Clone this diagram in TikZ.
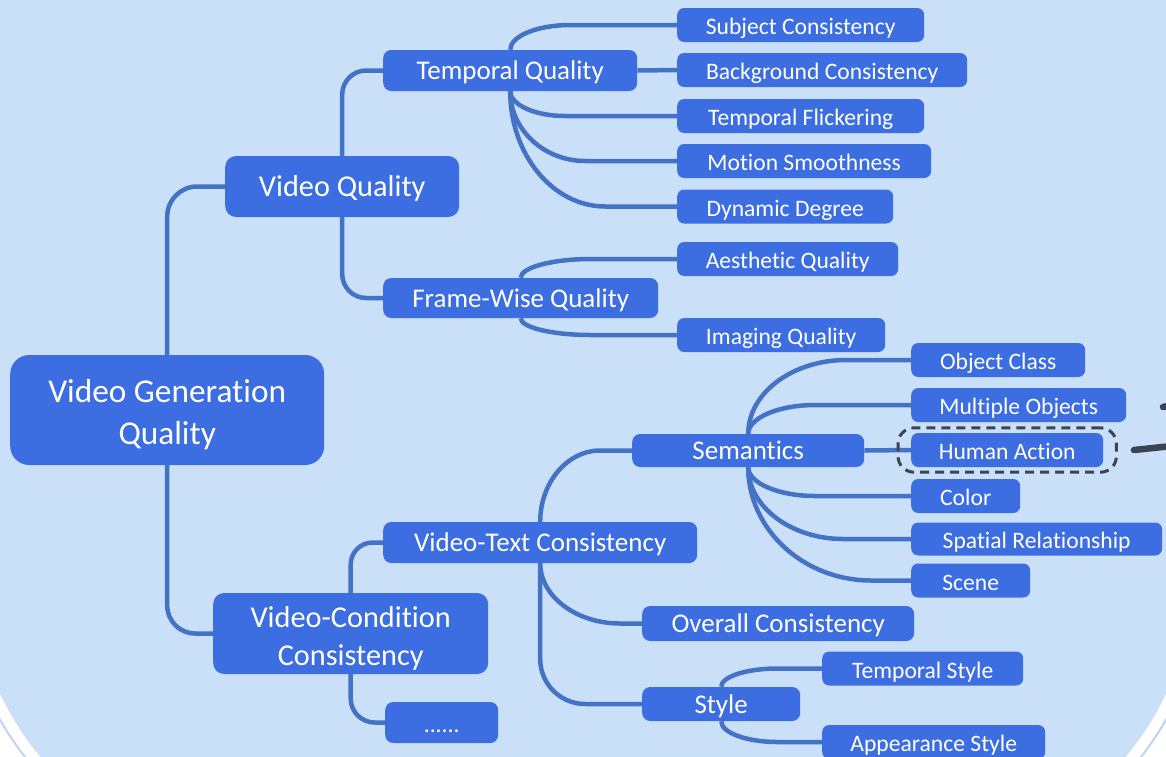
\documentclass[tikz,border=0pt]{standalone}
\usepackage{fontspec}
\setmainfont{Carlito}[Ligatures=NoCommon]
\usetikzlibrary{calc,fit}

\definecolor{bgblue}{RGB}{202,223,248}
\definecolor{rimblue}{RGB}{190,212,243}
\definecolor{boxblue}{RGB}{60,110,226}
\definecolor{linkblue}{RGB}{68,114,196}
\definecolor{pengray}{RGB}{58,68,84}

\tikzset{
  topic/.style={fill=boxblue, text=white, anchor=west, align=center, inner sep=0pt, rounded corners=7pt},
  rootbox/.style={topic, rounded corners=19pt, font=\fontsize{33.3}{42}\selectfont},
  lvlone/.style={topic, rounded corners=11pt, font=\fontsize{30.3}{38}\selectfont},
  lvltwo/.style={topic, text height=24pt, text depth=6pt, rounded corners=8pt, font=\fontsize{27}{32}\selectfont},
  leaf/.style={topic, text height=22pt, text depth=3pt, minimum height=34pt, font=\fontsize{23.6}{28}\selectfont},
  link/.style={draw=linkblue, line width=4.5pt},
  fan/.style={to path={.. controls ($(\tikztostart)!0.55!(\tikztostart |- \tikztotarget)$) and ($(\tikztostart |- \tikztotarget)+(0.45*#1,0)$) .. ($(\tikztostart |- \tikztotarget)+(#1,0)$) -- (\tikztotarget)}},
  hlframe/.style={draw=pengray, line width=3pt, dash pattern=on 9pt off 6pt, rounded corners=16pt},
  penline/.style={draw=pengray, line width=6.5pt, line cap=round},
}

\begin{document}
\begin{tikzpicture}[x=1pt,y=-1pt]
\useasboundingbox (0,0) rectangle (1166,756);
\clip (0,0) rectangle (1166,756);
% panel
\fill[white] (0,0) rectangle (1166,756);
\draw[rimblue, line width=2pt, rounded corners=312pt] (-41,-700) rectangle (1207,877);
\fill[bgblue, rounded corners=300pt] (-29,-700) rectangle (1195,865);

% topics
\node[rootbox, minimum width=314pt, minimum height=110pt] (root) at (10,410) {\rule{0pt}{1em}Video Generation\\Quality};
\node[lvlone, text height=26pt, text depth=7pt, minimum width=234pt, minimum height=61pt] (vq) at (225,186.5) {Video Quality};
\node[lvlone, minimum width=275pt, minimum height=81pt] (vcc) at (213,633.5) {\rule{0pt}{1em}Video-Condition\\Consistency};
\node[leaf, rounded corners=8pt, minimum width=113pt, minimum height=41pt] (more) at (385,722.5) {......};

\node[lvltwo, minimum width=254pt, minimum height=41pt] (tq) at (383,70.5) {Temporal Quality};
\node[lvltwo, minimum width=275pt, minimum height=40pt] (fw) at (383,298) {Frame-Wise Quality};
\node[lvltwo, minimum width=314pt, minimum height=41pt] (vtc) at (383,542.5) {Video-Text Consistency};
\node[lvltwo, minimum width=232pt, minimum height=33pt] (sem) at (632,450.5) {Semantics};
\node[lvltwo, minimum width=272pt, minimum height=35pt] (ovc) at (642,623.5) {Overall Consistency};
\node[lvltwo, minimum width=158pt, minimum height=34pt] (sty) at (642,704) {Style};

\node[leaf, minimum width=247pt] (subj) at (677,25) {Subject Consistency};
\node[leaf, minimum width=290pt] (bgc) at (677,70) {Background Consistency};
\node[leaf, minimum width=247pt] (flick) at (677,116) {Temporal Flickering};
\node[leaf, minimum width=254pt] (smooth) at (677,161) {Motion Smoothness};
\node[leaf, minimum width=216pt] (dyn) at (677,206.5) {Dynamic Degree};
\node[leaf, minimum width=221pt] (aes) at (677,259) {Aesthetic Quality};
\node[leaf, minimum width=208pt] (img) at (677,335) {Imaging Quality};

\node[leaf, minimum width=174pt] (objc) at (911,360) {Object Class};
\node[leaf, minimum width=215pt] (multi) at (911,405) {Multiple Objects};
\node[leaf, minimum width=192pt] (human) at (911,450) {Human Action};
\node[leaf, minimum width=109pt] (color) at (911,496) {Color};
\node[leaf, minimum width=251pt, minimum height=33pt] (spat) at (911,539) {Spatial Relationship};
\node[leaf, minimum width=119pt] (scene) at (911,580.5) {Scene};

\node[leaf, minimum width=201pt] (tsty) at (822,668.5) {Temporal Style};
\node[leaf, minimum width=223pt] (asty) at (822,742) {Appearance Style};

% links
\draw[link, rounded corners=30pt] (root.north) |- (vq.west);
\draw[link, rounded corners=28pt] (root.south) |- (vcc.west);
\draw[link, rounded corners=24pt] (vq.north) |- (tq.west);
\draw[link, rounded corners=24pt] (vq.south) |- (fw.west);
\draw[link, rounded corners=22pt] (vcc.north) |- (vtc.west);
\draw[link, rounded corners=24pt] (vcc.south) |- (more.west);

\draw[link, fan=60] (tq.north) to (subj.west);
\draw[link] (tq.east) -- (bgc.west);
\draw[link, fan=55] (tq.south) to (flick.west);
\draw[link, fan=75] (tq.south) to (smooth.west);
\draw[link, fan=95] (tq.south) to (dyn.west);
\draw[link, fan=70] (fw.north) to (aes.west);
\draw[link, fan=70] (fw.south) to (img.west);

\draw[link, fan=60] (vtc.north) to (sem.west);
\draw[link, fan=80] (vtc.south) to (ovc.west);
\draw[link, rounded corners=45pt] (vtc.south) |- (sty.west);

\draw[link, fan=98] (sem.north) to (objc.west);
\draw[link, fan=67] (sem.north) to (multi.west);
\draw[link] (sem.east) -- (human.west);
\draw[link, fan=67] (sem.south) to (color.west);
\draw[link, fan=95] (sem.south) to (spat.west);
\draw[link, fan=123] (sem.south) to (scene.west);

\draw[link, fan=56] (sty.north) to (tsty.west);
\draw[link, fan=56] (sty.south) to (asty.west);

% hand marks
\node[hlframe, fit=(human), inner xsep=13pt, inner ysep=5pt] (hfrm) {};
\coordinate (penend) at (1172,446);
\coordinate (pendot) at (1163,407);
\coordinate (pentip) at (1172,405);
\draw[penline] ([xshift=16pt]hfrm.east) -- (penend);
\draw[penline] (pendot) -- (pentip);
\end{tikzpicture}
\end{document}
